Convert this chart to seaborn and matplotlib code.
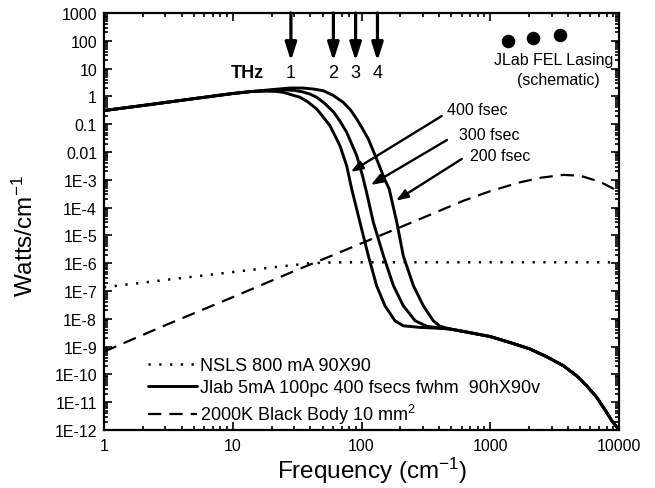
import numpy as np
import pandas as pd
import matplotlib
matplotlib.use("Agg")
import matplotlib.pyplot as plt
import seaborn as sns
from matplotlib.lines import Line2D
from matplotlib.ticker import FixedLocator, FixedFormatter, LogLocator, NullFormatter

sns.set_theme(style="ticks")
plt.rcParams['font.family'] = ['Liberation Sans', 'DejaVu Sans']
plt.rcParams['mathtext.fontset'] = 'custom'
plt.rcParams['mathtext.rm'] = 'Liberation Sans'
plt.rcParams['mathtext.it'] = 'Liberation Sans:italic'
plt.rcParams['mathtext.bf'] = 'Liberation Sans:bold'

# ---------------- data ----------------
tail_freq = [285, 407, 487, 620, 1000, 1500, 2036, 2750, 3690, 4690, 5610, 6710, 8020, 8770, 10000]
tail_w = [4.9e-9, 4.55e-9, 4.3e-9, 3.5e-9, 2.3e-9, 1.3e-9, 8.2e-10, 4.3e-10, 2.06e-10, 8.9e-11,
          3.9e-11, 1.5e-11, 4.3e-12, 2.2e-12, 1e-12]

jlab400_freq = [1, 2, 5, 10, 14, 18, 22, 24.7, 28, 33.3, 38, 44.9, 50, 56.9, 62, 68, 76.7,
                83.9, 97.3, 113, 131, 152, 182, 211] + tail_freq
jlab400_w = [0.31, 0.47, 0.83, 1.27, 1.5, 1.55, 1.5, 1.4, 1.18, 0.93, 0.65, 0.352, 0.19, 0.088,
             0.04, 0.0169, 3.2e-3, 4.7e-4, 2.96e-5, 1.86e-6, 1.55e-7, 2.96e-8, 8.5e-9,
             5.6e-9] + tail_w

jlab300_freq = [1, 2, 5, 10, 14, 20, 25, 30, 35, 40, 44.9, 52, 60.4, 68, 76.7, 91.8, 101.8,
                109.4, 123.6, 148, 177, 211, 261, 321] + tail_freq[1:]
jlab300_w = [0.31, 0.47, 0.83, 1.27, 1.5, 1.65, 1.72, 1.65, 1.45, 1.2, 0.93, 0.55, 0.28, 0.13,
             0.051, 7.4e-3, 1.4e-3, 3.6e-4, 2.96e-5, 1.86e-6, 1.55e-7, 2.96e-8, 8.5e-9,
             5.4e-9] + [4.6e-9] + tail_w[2:]

jlab200_freq = [1, 2, 5, 10, 14, 20, 27.8, 35, 42, 50.5, 60, 72.2, 82, 91.8, 102, 113, 131,
                151, 164, 188, 211, 253, 302, 361, 407] + tail_freq[2:]
jlab200_w = [0.31, 0.47, 0.83, 1.27, 1.5, 1.75, 2.0, 2.0, 1.85, 1.6, 1.1, 0.61, 0.33, 0.154,
             0.068, 0.0294, 5.6e-3, 1.07e-3, 4.7e-4, 2.96e-5, 1.86e-6, 1.55e-7, 2.96e-8,
             8.5e-9, 5.4e-9] + tail_w[2:]

nsls_freq = [1, 3, 10, 20, 40, 60, 100, 300, 1000, 3000, 10000]
nsls_w = [1.36e-7, 2.5e-7, 4.8e-7, 7.0e-7, 1.0e-6, 1.07e-6, 1.08e-6, 1.08e-6, 1.08e-6, 1.08e-6, 1.08e-6]

bb_freq = [1, 3, 10, 30, 68, 100, 285, 620, 1000, 1700, 2500, 3700, 5000, 7100, 10000]
bb_w = [6.6e-10, 5.9e-9, 6.0e-8, 5.2e-7, 2.47e-6, 5.2e-6, 3.9e-5, 1.77e-4, 3.9e-4, 8.1e-4,
        1.2e-3, 1.5e-3, 1.4e-3, 8.5e-4, 3.8e-4]

fel_freq = [1380, 2150, 3480]
fel_w = [98, 125, 160]

thz_freq = [28.3, 60.5, 90, 133]
thz_labels = ["1", "2", "3", "4"]

pulse_labels = ["400 fsec", "300 fsec", "200 fsec"]

legend_labels = ["NSLS 800 mA 90X90",
                 "Jlab 5mA 100pc 400 fsecs fwhm  90hX90v",
                 "2000K Black Body 10 mm$^2$"]

y_ticks = [1e3, 1e2, 1e1, 1, 1e-1, 1e-2, 1e-3, 1e-4, 1e-5, 1e-6, 1e-7, 1e-8, 1e-9, 1e-10, 1e-11, 1e-12]
y_tick_labels = ["1000", "100", "10", "1", "0.1", "0.01", "1E-3", "1E-4", "1E-5", "1E-6",
                 "1E-7", "1E-8", "1E-9", "1E-10", "1E-11", "1E-12"]
x_ticks = [1, 10, 100, 1000, 10000]
x_tick_labels = ["1", "10", "100", "1000", "10000"]

# ---------------- figure ----------------
fig = plt.figure(figsize=(6.55, 4.89), dpi=100)
fig.patch.set_facecolor("white")
ax = fig.add_axes([104 / 655, 1 - 431 / 489, 515 / 655, 417 / 489])
ax.set_facecolor("white")
ax.set_xscale("log")
ax.set_yscale("log")

K = "black"
dotted = (0, (0.9, 3.4))
dashed = (0, (6, 3.6))

sns.lineplot(x=nsls_freq, y=nsls_w, ax=ax, color=K, lw=1.8, linestyle=dotted,
             sort=False, estimator=None)
for fr, w in [(jlab400_freq, jlab400_w), (jlab300_freq, jlab300_w), (jlab200_freq, jlab200_w)]:
    sns.lineplot(x=fr, y=w, ax=ax, color=K, lw=2.1, sort=False, estimator=None,
                 solid_capstyle="round", solid_joinstyle="round")
sns.lineplot(x=bb_freq, y=bb_w, ax=ax, color=K, lw=1.6, linestyle=dashed,
             sort=False, estimator=None)
sns.scatterplot(x=fel_freq, y=fel_w, ax=ax, color=K, s=95, edgecolor=K, linewidth=0, zorder=5)

ax.set_xlim(1, 10000)
ax.set_ylim(1e-12, 1000)

# ticks
ax.xaxis.set_major_locator(FixedLocator(x_ticks))
ax.xaxis.set_major_formatter(FixedFormatter(x_tick_labels))
ax.xaxis.set_minor_locator(LogLocator(base=10, subs=np.arange(2, 10), numticks=100))
ax.xaxis.set_minor_formatter(NullFormatter())
ax.yaxis.set_major_locator(FixedLocator(y_ticks))
ax.yaxis.set_major_formatter(FixedFormatter(y_tick_labels))
ax.yaxis.set_minor_locator(LogLocator(base=10, subs=np.arange(2, 10), numticks=100))
ax.yaxis.set_minor_formatter(NullFormatter())
ax.tick_params(which="both", direction="in", top=True, right=True, color=K, width=1.2)
ax.tick_params(which="major", length=5.5)
ax.tick_params(which="minor", length=2.8)
ax.tick_params(axis="y", which="major", labelsize=11.5, pad=5, labelcolor=K)
ax.tick_params(axis="x", which="major", labelsize=11.5, pad=6, labelcolor=K)
for s in ax.spines.values():
    s.set_linewidth(1.6)
    s.set_color(K)
    s.set_visible(True)

ax.set_xlabel("Frequency (cm$^{-1}$)", fontsize=17.5, color=K)
ax.set_ylabel("Watts/cm$^{-1}$", fontsize=17.5, color=K)
ax.xaxis.set_label_coords(0.52, -0.06)
ax.yaxis.set_label_coords(-0.128, 0.468)

# THz arrows
for f, lab in zip(thz_freq, thz_labels):
    ax.annotate("", xy=(f, 18.8), xytext=(f, 1000),
                arrowprops=dict(arrowstyle="-|>,head_length=0.6,head_width=0.19",
                                mutation_scale=18, lw=2.3, color=K, shrinkA=0, shrinkB=0))
    ax.text(f, 7.5, lab, ha="center", va="center", fontsize=13, color=K)
ax.text(12.9, 7.5, "THz", ha="center", va="center", fontsize=13, fontweight="bold", color=K)

# FEL text
ax.text(3100, 22, "JLab FEL Lasing", ha="center", va="center", fontsize=11.5, color=K)
ax.text(3400, 4.2, "(schematic)", ha="center", va="center", fontsize=11.5, color=K)

# pulse length labels and arrows
pulse_text_pos = [(461, 0.352), (575, 0.0444), (697, 7.4e-3)]
pulse_arrow_from = [(420, 0.197), (461, 0.027), (600, 5.6e-3)]
pulse_arrow_to = [(82.4, 1.91e-3), (118, 6.5e-4), (185, 1.77e-4)]
for lab, tp, a0, a1 in zip(pulse_labels, pulse_text_pos, pulse_arrow_from, pulse_arrow_to):
    ax.text(tp[0], tp[1], lab, ha="left", va="center", fontsize=11.5, color=K)
    ax.annotate("", xy=a1, xytext=a0,
                arrowprops=dict(arrowstyle="-|>,head_length=0.55,head_width=0.2",
                                mutation_scale=13, lw=1.7, color=K, shrinkA=0, shrinkB=0))

# legend
handles = [Line2D([], [], color=K, lw=1.8, linestyle=dotted),
           Line2D([], [], color=K, lw=2.1),
           Line2D([], [], color=K, lw=1.6, linestyle=dashed)]
leg = ax.legend(handles, legend_labels, loc="lower left", bbox_to_anchor=(0.085, 0.01),
                frameon=False, fontsize=13, handlelength=2.7, handletextpad=0.2,
                labelspacing=0.3, borderpad=0, borderaxespad=0)
for t in leg.get_texts():
    t.set_color(K)

fig.savefig("out.png", dpi=100, facecolor="white")
